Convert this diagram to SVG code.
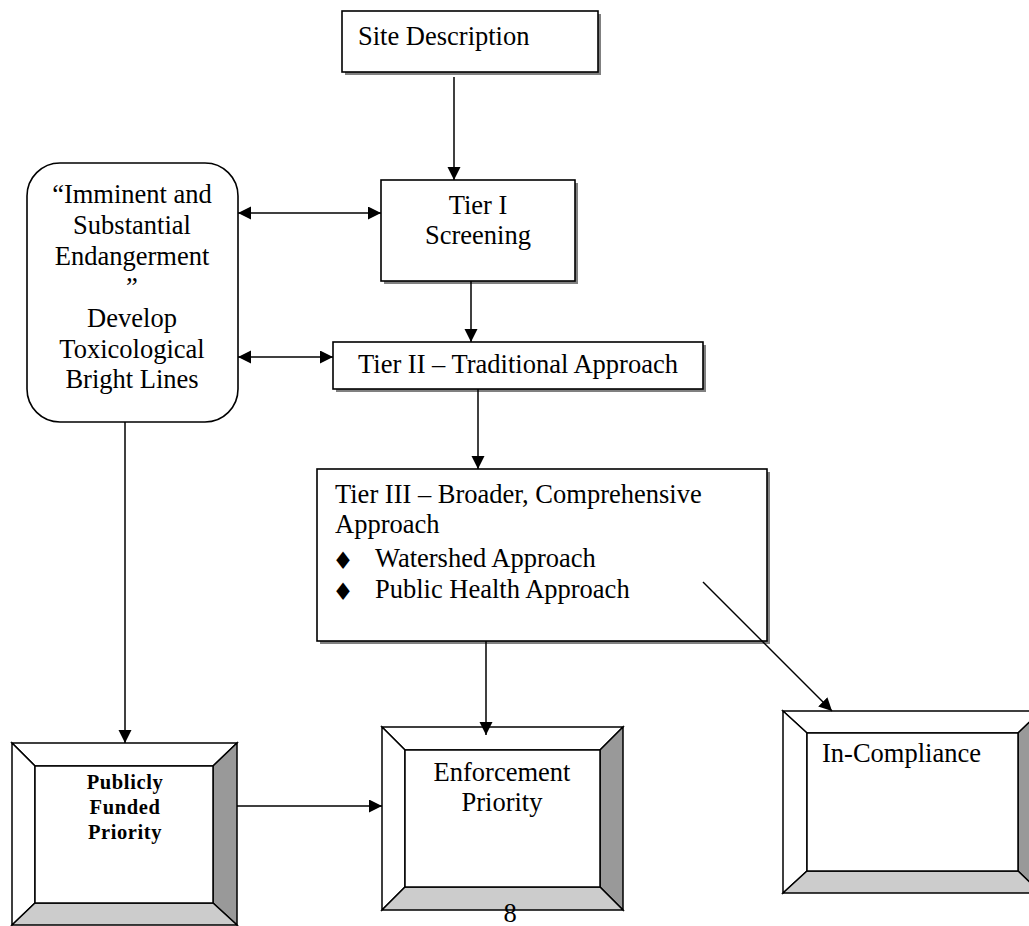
<svg xmlns="http://www.w3.org/2000/svg" width="1029" height="926" viewBox="0 0 1029 926">
<style>
.t{font-family:"Liberation Serif","Times New Roman",serif;font-size:26.5px;fill:#000}
.c{text-anchor:middle}
.box{fill:#fff;stroke:#000;stroke-width:1.6}
.sh{fill:#808080}
.bv{stroke:#000;stroke-width:1.5;stroke-linejoin:miter}
.w{fill:#fff}.d{fill:#999}.l{fill:#ccc}
.cn{fill:none;stroke:#000;stroke-width:1.5}
.bul{font-family:"DejaVu Sans",sans-serif;font-size:24px;fill:#000}
.pb{font-size:20.5px;font-weight:bold;letter-spacing:0.6px}
</style>
<defs>
<marker id="ah" markerUnits="userSpaceOnUse" markerWidth="14" markerHeight="14" refX="13" refY="6.5" orient="auto-start-reverse" viewBox="0 0 14 14">
<path d="M0,0 L13,6.5 L0,13 z" fill="#000"/>
</marker>
</defs>
<rect width="1029" height="926" fill="#fff"/>

<g id="site">
<rect class="sh" x="345" y="14" width="256" height="61"/>
<rect class="box" x="342" y="11" width="256" height="61"/>
<text class="t" x="358" y="45">Site Description</text>
</g>

<g id="tier1">
<rect class="sh" x="384" y="183" width="194" height="101"/>
<rect class="box" x="381" y="180" width="194" height="101"/>
<text class="t c" x="478" y="214">Tier I</text>
<text class="t c" x="478" y="244">Screening</text>
</g>

<g id="tier2">
<rect class="sh" x="336" y="345" width="370" height="47"/>
<rect class="box" x="333" y="342" width="370" height="47"/>
<text class="t c" x="518" y="373">Tier II – Traditional Approach</text>
</g>

<g id="tier3">
<rect class="sh" x="320" y="472" width="450" height="172"/>
<rect class="box" x="317" y="469" width="450" height="172"/>
<text class="t" x="335" y="503">Tier III – Broader, Comprehensive</text>
<text class="t" x="335" y="533">Approach</text>
<text class="bul" x="343" y="569" text-anchor="middle">♦</text>
<text class="t" x="375" y="567">Watershed Approach</text>
<text class="bul" x="343" y="600" text-anchor="middle">♦</text>
<text class="t" x="375" y="598">Public Health Approach</text>
</g>

<g id="imminent">
<rect class="box" x="27" y="163" width="211" height="259" rx="33" ry="33"/>
<text class="t c" x="132" y="203">“Imminent and</text>
<text class="t c" x="132" y="234">Substantial</text>
<text class="t c" x="132" y="264.5">Endangerment</text>
<text class="t c" x="132" y="295.5">”</text>
<text class="t c" x="132" y="326.5">Develop</text>
<text class="t c" x="132" y="357.5">Toxicological</text>
<text class="t c" x="132" y="388">Bright Lines</text>
</g>

<g id="publicly">
<polygon class="bv w" points="12,743 237,743 213,766 35,766"/>
<polygon class="bv w" points="12,743 35,766 35,903 12,925"/>
<polygon class="bv d" points="237,743 237,925 213,903 213,766"/>
<polygon class="bv l" points="12,925 35,903 213,903 237,925"/>
<rect class="bv w" x="35" y="766" width="178" height="137"/>
<text class="t c pb" x="125" y="789">Publicly</text>
<text class="t c pb" x="125" y="814">Funded</text>
<text class="t c pb" x="125" y="839">Priority</text>
</g>

<g id="enforcement">
<polygon class="bv w" points="382,727 623,727 600,750 405,750"/>
<polygon class="bv w" points="382,727 405,750 405,887 382,910"/>
<polygon class="bv d" points="623,727 623,910 600,887 600,750"/>
<polygon class="bv l" points="382,910 405,887 600,887 623,910"/>
<rect class="bv w" x="405" y="750" width="195" height="137"/>
<text class="t c" x="502" y="781">Enforcement</text>
<text class="t c" x="502" y="811">Priority</text>
</g>

<g id="incompliance">
<polygon class="bv w" points="783,711 1041,711 1018,733 807,733"/>
<polygon class="bv w" points="783,711 807,733 807,871 783,893"/>
<polygon class="bv d" points="1041,711 1041,893 1018,871 1018,733"/>
<polygon class="bv l" points="783,893 807,871 1018,871 1041,893"/>
<rect class="bv w" x="807" y="733" width="211" height="138"/>
<text class="t" x="822" y="762" font-size="23">In-Compliance</text>
</g>

<text class="t c" x="510" y="922" font-size="17">8</text>

<g id="connectors">
<line class="cn" x1="454" y1="77" x2="454" y2="180" marker-end="url(#ah)"/>
<line class="cn" x1="471" y1="281" x2="471" y2="342" marker-end="url(#ah)"/>
<line class="cn" x1="478" y1="389" x2="478" y2="469" marker-end="url(#ah)"/>
<line class="cn" x1="238" y1="213" x2="381" y2="213" marker-start="url(#ah)" marker-end="url(#ah)"/>
<line class="cn" x1="238" y1="357" x2="333" y2="357" marker-start="url(#ah)" marker-end="url(#ah)"/>
<line class="cn" x1="125" y1="422" x2="125" y2="743" marker-end="url(#ah)"/>
<line class="cn" x1="486" y1="641" x2="486" y2="735" marker-end="url(#ah)"/>
<line class="cn" x1="237" y1="806" x2="382" y2="806" marker-end="url(#ah)"/>
<line class="cn" x1="703" y1="582" x2="832" y2="711" marker-end="url(#ah)"/>
</g>
</svg>
